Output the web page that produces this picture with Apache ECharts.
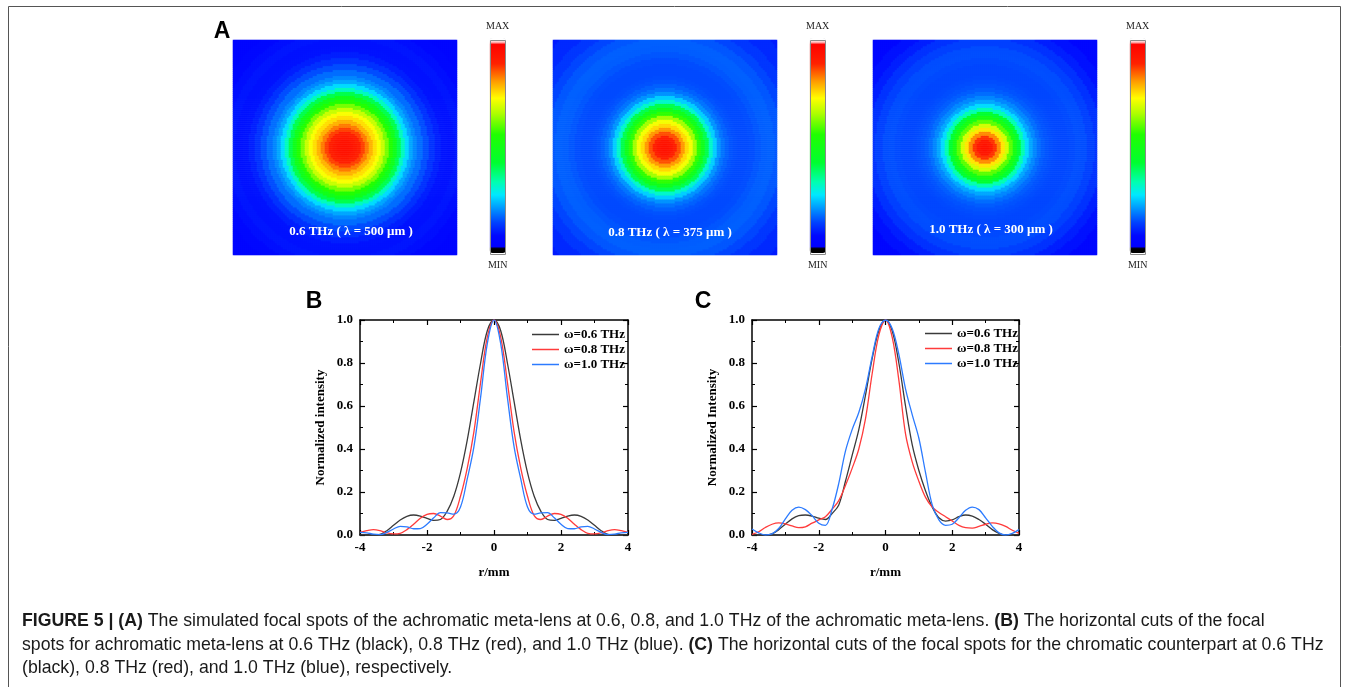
<!DOCTYPE html>
<html lang="en">
<head>
<meta charset="UTF-8">
<title>FIGURE 5 focal spots</title>
<script src="https://cdn.jsdelivr.net/npm/echarts@6/dist/echarts.min.js"></script>
<style>
    html, body { margin: 0; padding: 0; background: #fff; }
    #main { width: 1354px; height: 687px; }
</style>
</head>
<body>
<div id="main"></div>
<script type="text/javascript">
    // ---- data ----
    var seriesNames = ['ω=0.6 THz', 'ω=0.8 THz', 'ω=1.0 THz'];
    var spotLabels = ['0.6 THz ( λ = 500 μm )', '0.8 THz ( λ = 375 μm )', '1.0 THz ( λ = 300 μm )'];

    // r/mm sample positions of the horizontal cuts
    var rPos = [-4.0, -3.8, -3.6, -3.4, -3.2, -3.0, -2.8, -2.6, -2.4, -2.2, -2.0, -1.8, -1.6, -1.4, -1.2, -1.0, -0.8, -0.6, -0.4, -0.2,
        0.0, 0.2, 0.4, 0.6, 0.8, 1.0, 1.2, 1.4, 1.6, 1.8, 2.0, 2.2, 2.4, 2.6, 2.8, 3.0, 3.2, 3.4, 3.6, 3.8, 4.0];

    // (B) achromatic meta-lens
    var b06 = [0.0, 0.0, 0.0, 0.003, 0.02, 0.045, 0.07, 0.087, 0.093, 0.088, 0.077, 0.068, 0.072, 0.11, 0.18, 0.29, 0.44, 0.62, 0.80, 0.95,
        1.0, 0.95, 0.80, 0.62, 0.44, 0.29, 0.18, 0.11, 0.072, 0.068, 0.077, 0.088, 0.093, 0.087, 0.07, 0.045, 0.02, 0.003, 0.0, 0.0, 0.0];
    var b08 = [0.012, 0.02, 0.025, 0.02, 0.01, 0.005, 0.008, 0.025, 0.05, 0.078, 0.096, 0.10, 0.088, 0.072, 0.09, 0.18, 0.31, 0.48, 0.71, 0.92,
        1.0, 0.92, 0.71, 0.48, 0.31, 0.18, 0.09, 0.072, 0.088, 0.10, 0.096, 0.078, 0.05, 0.025, 0.008, 0.005, 0.01, 0.02, 0.025, 0.02, 0.012];
    var b10 = [0.012, 0.01, 0.004, 0.002, 0.012, 0.028, 0.04, 0.038, 0.029, 0.03, 0.05, 0.08, 0.104, 0.103, 0.097, 0.13, 0.26, 0.41, 0.64, 0.89,
        1.0, 0.89, 0.64, 0.41, 0.26, 0.13, 0.097, 0.103, 0.104, 0.08, 0.05, 0.03, 0.029, 0.038, 0.04, 0.028, 0.012, 0.002, 0.004, 0.01, 0.012];

    // (C) chromatic counterpart
    var c06 = [0.0, 0.0, 0.0, 0.005, 0.025, 0.05, 0.075, 0.09, 0.093, 0.088, 0.078, 0.072, 0.10, 0.14, 0.25, 0.37, 0.49, 0.65, 0.82, 0.95,
        1.0, 0.95, 0.80, 0.60, 0.42, 0.30, 0.205, 0.13, 0.08, 0.065, 0.07, 0.085, 0.093, 0.088, 0.072, 0.05, 0.025, 0.008, 0.0, 0.0, 0.0];
    var c08 = [0.003, 0.015, 0.035, 0.05, 0.056, 0.052, 0.042, 0.034, 0.038, 0.055, 0.07, 0.085, 0.12, 0.16, 0.23, 0.31, 0.40, 0.54, 0.75, 0.93,
        1.0, 0.92, 0.72, 0.47, 0.34, 0.25, 0.175, 0.13, 0.105, 0.085, 0.065, 0.045, 0.034, 0.032, 0.04, 0.05, 0.056, 0.052, 0.04, 0.022, 0.008];
    var c10 = [0.028, 0.01, 0.0, 0.005, 0.03, 0.075, 0.115, 0.13, 0.118, 0.09, 0.055, 0.045, 0.12, 0.24, 0.39, 0.49, 0.57, 0.68, 0.83, 0.96,
        1.0, 0.96, 0.84, 0.68, 0.56, 0.45, 0.29, 0.14, 0.07, 0.045, 0.05, 0.08, 0.115, 0.13, 0.118, 0.08, 0.04, 0.01, 0.0, 0.008, 0.025];

    // (A) focal spots: intensity bands, ring radius (px from spot centre) -> normalized level
    var ringRadius = [0, 4, 8, 12, 16, 20, 24, 28, 32, 36, 40, 44, 48, 52, 56, 60, 64, 68, 72, 78, 84, 90, 96, 102, 110, 118, 126, 136, 150];
    var spot06 = [0.93, 0.925, 0.91, 0.89, 0.86, 0.82, 0.78, 0.745, 0.715, 0.67, 0.61, 0.55, 0.48, 0.40, 0.32, 0.26, 0.22, 0.195, 0.175,
        0.15, 0.125, 0.105, 0.092, 0.09, 0.095, 0.088, 0.078, 0.068, 0.06];
    var spot08 = [0.93, 0.92, 0.89, 0.85, 0.80, 0.75, 0.71, 0.64, 0.56, 0.48, 0.40, 0.31, 0.25, 0.205, 0.18, 0.165, 0.155, 0.15, 0.148,
        0.148, 0.15, 0.157, 0.163, 0.165, 0.158, 0.145, 0.13, 0.115, 0.10];
    var spot10 = [0.93, 0.91, 0.87, 0.81, 0.74, 0.68, 0.59, 0.50, 0.42, 0.33, 0.26, 0.22, 0.195, 0.175, 0.162, 0.155, 0.15, 0.147, 0.146,
        0.146, 0.148, 0.152, 0.15, 0.14, 0.125, 0.105, 0.09, 0.075, 0.065];

    // jet-like colour bar stops
    var jetStops = [[0, '#000000'], [0.02, '#000000'], [0.03, '#0000ff'], [0.08, '#0008ff'], [0.14, '#0040ff'], [0.19, '#0080ff'],
        [0.27, '#00e8ff'], [0.33, '#00ffb0'], [0.42, '#00ff30'], [0.55, '#20ff00'], [0.65, '#b0ff00'], [0.72, '#ffff00'],
        [0.80, '#ff9900'], [0.88, '#ff2200'], [0.975, '#ff0000'], [0.982, '#ffffff'], [1, '#ffffff']];

    // ---- helpers ----
    var SERIF = "'Liberation Serif', 'DejaVu Serif', serif";
    var SANS = "'Liberation Sans', Arial, sans-serif";

    function hex2rgb(h) {
        return [parseInt(h.substr(1, 2), 16), parseInt(h.substr(3, 2), 16), parseInt(h.substr(5, 2), 16)];
    }
    function jetColors(n) {
        var out = [];
        for (var i = 0; i < n; i++) {
            var t = i / (n - 1), k = 0;
            while (k < jetStops.length - 2 && jetStops[k + 1][0] < t) k++;
            var a = jetStops[k], b = jetStops[k + 1];
            var f = (t - a[0]) / (b[0] - a[0]);
            f = Math.max(0, Math.min(1, f));
            var ca = hex2rgb(a[1]), cb = hex2rgb(b[1]);
            out.push('rgb(' + Math.round(ca[0] + (cb[0] - ca[0]) * f) + ',' + Math.round(ca[1] + (cb[1] - ca[1]) * f) + ',' + Math.round(ca[2] + (cb[2] - ca[2]) * f) + ')');
        }
        return out;
    }
    var jet = jetColors(201);

    var cellsX = 112, cellsY = 108, cellPx = 2;
    var cellIdxX = [], cellIdxY = [];
    for (var i = 0; i < cellsX; i++) cellIdxX.push(i);
    for (var j = 0; j < cellsY; j++) cellIdxY.push(j);

    // cell table for the heatmap: each cell takes the level of the band it falls in
    function spotCells(levels) {
        var out = [];
        for (var i = 0; i < cellsX; i++) {
            for (var j = 0; j < cellsY; j++) {
                var d = Math.sqrt(Math.pow(i + 0.5 - cellsX / 2, 2) + Math.pow(j + 0.5 - cellsY / 2, 2)) * cellPx;
                var k = 0;
                while (k + 1 < ringRadius.length && ringRadius[k + 1] <= d) k++;
                out.push([i, j, levels[k]]);
            }
        }
        return out;
    }
    function pairs(ys) {
        return rPos.map(function (r, i) { return [r, ys[i]]; });
    }

    var spotGrids = [233, 553, 873];
    var barLeft = [490, 810, 1130];
    var spots = [spot06, spot08, spot10];

    var grids = [], xAxes = [], yAxes = [], series = [], visualMaps = [], graphics = [];

    spotGrids.forEach(function (left, k) {
        grids.push({left: left, top: 40, width: 224, height: 215});
        xAxes.push({type: 'category', gridIndex: k, data: cellIdxX, show: false});
        yAxes.push({type: 'category', gridIndex: k, data: cellIdxY, show: false});
        series.push({
            type: 'heatmap', xAxisIndex: k, yAxisIndex: k, data: spotCells(spots[k]),
            progressive: 0, silent: true, emphasis: {disabled: true}
        });
        visualMaps.push({
            type: 'continuous', seriesIndex: k, min: 0, max: 1, calculable: false, hoverLink: false,
            orient: 'vertical', left: barLeft[k] - 4, top: 21, itemWidth: 16, itemHeight: 215,
            text: ['MAX', 'MIN'], textGap: 7, padding: 0,
            textStyle: {fontFamily: SERIF, fontSize: 10, color: '#222'},
            inRange: {color: jet}
        });
        graphics.push({
            type: 'rect', z: 100, shape: {x: barLeft[k] + 0.5, y: 40.5, width: 15, height: 214},
            style: {fill: 'none', stroke: '#8a8a8a', lineWidth: 1}
        });
    });

    var labelCenters = [[351, 232], [670, 233], [991, 230]];
    spotLabels.forEach(function (t, k) {
        graphics.push({
            type: 'text', z: 100, x: labelCenters[k][0], y: labelCenters[k][1],
            style: {text: t, fill: '#fff', fontFamily: SERIF, fontWeight: 'bold', fontSize: 13, align: 'center', verticalAlign: 'middle'}
        });
    });

    var axisText = {color: '#000', fontFamily: SERIF, fontWeight: 'bold', fontSize: 13};
    var lineColors = ['#3a3a3a', '#ff3b3b', '#2c7bff'];

    function frame(gridIndex, yName) {
        var base = {
            axisLine: {show: true, onZero: false, lineStyle: {color: '#000', width: 1.5}},
            axisTick: {show: true, inside: true, length: 5, lineStyle: {color: '#000', width: 1.2}},
            minorTick: {show: true, splitNumber: 2, length: 3, lineStyle: {color: '#000', width: 1}},
            splitLine: {show: false}
        };
        xAxes.push(Object.assign({
            type: 'value', gridIndex: gridIndex, position: 'bottom', min: -4, max: 4, interval: 2,
            axisLabel: Object.assign({margin: 6}, axisText),
            name: 'r/mm', nameLocation: 'middle', nameGap: 31, nameTextStyle: axisText
        }, base));
        xAxes.push(Object.assign({
            type: 'value', gridIndex: gridIndex, position: 'top', min: -4, max: 4, interval: 2,
            axisLabel: {show: false}
        }, base));
        yAxes.push(Object.assign({
            type: 'value', gridIndex: gridIndex, position: 'left', min: 0, max: 1, interval: 0.2,
            axisLabel: Object.assign({margin: 7, formatter: function (v) { return v.toFixed(1); }}, axisText),
            name: yName, nameLocation: 'middle', nameRotate: 90, nameGap: 33, nameTextStyle: axisText
        }, base));
        yAxes.push(Object.assign({
            type: 'value', gridIndex: gridIndex, position: 'right', min: 0, max: 1, interval: 0.2,
            axisLabel: {show: false}
        }, base));
    }

    grids.push({left: 360, top: 320, width: 268, height: 215});
    frame(3, 'Normalized intensity');
    grids.push({left: 752, top: 320, width: 267, height: 215});
    frame(4, 'Normalized Intensity');

    [[b06, b08, b10], [c06, c08, c10]].forEach(function (set, g) {
        set.forEach(function (ys, k) {
            series.push({
                type: 'line', name: seriesNames[k], xAxisIndex: 3 + g * 2, yAxisIndex: 3 + g * 2,
                data: pairs(ys), symbol: 'none', smooth: 0.35, silent: true,
                lineStyle: {color: lineColors[k], width: 1.3}, itemStyle: {color: lineColors[k]}
            });
        });
    });

    var legendBase = {
        orient: 'vertical', data: seriesNames, selectedMode: false, icon: 'rect', itemWidth: 27, itemHeight: 1.5, itemGap: 2,
        padding: 0, textStyle: {color: '#000', fontFamily: SERIF, fontWeight: 'bold', fontSize: 13}
    };
    var legends = [
        Object.assign({left: 532, top: 328}, legendBase),
        Object.assign({left: 925, top: 327}, legendBase)
    ];

    // panel letters
    [['A', 222, 32], ['B', 314, 302], ['C', 703, 302]].forEach(function (p) {
        graphics.push({
            type: 'text', x: p[1], y: p[2],
            style: {text: p[0], fill: '#000', fontFamily: SANS, fontWeight: 'bold', fontSize: 23, align: 'center', verticalAlign: 'middle'}
        });
    });

    // figure box
    graphics.push({
        type: 'polyline', shape: {points: [[8.5, 687], [8.5, 6.5], [1340.5, 6.5], [1340.5, 687]]},
        style: {fill: 'none', stroke: '#555', lineWidth: 1}
    });

    // caption
    var capRich = {
        b: {fontFamily: SANS, fontSize: 17.7, fontWeight: 'bold', fill: '#1a1a1a'},
        n: {fontFamily: SANS, fontSize: 17.7, fill: '#1a1a1a'}
    };
    var captionLines = [
        '{b|FIGURE 5 | (A)}{n| The simulated focal spots of the achromatic meta-lens at 0.6, 0.8, and 1.0 THz of the achromatic meta-lens. }{b|(B)}{n| The horizontal cuts of the focal}',
        '{n|spots for achromatic meta-lens at 0.6 THz (black), 0.8 THz (red), and 1.0 THz (blue). }{b|(C)}{n| The horizontal cuts of the focal spots for the chromatic counterpart at 0.6 THz}',
        '{n|(black), 0.8 THz (red), and 1.0 THz (blue), respectively.}'
    ];
    [621, 645, 668].forEach(function (y, k) {
        graphics.push({
            type: 'text', x: 22, y: y,
            style: {text: captionLines[k], rich: capRich, align: 'left', verticalAlign: 'middle'}
        });
    });

    var myChart = echarts.init(document.getElementById('main'));
    var option = {
        animation: false,
        backgroundColor: '#fff',
        grid: grids,
        xAxis: xAxes,
        yAxis: yAxes,
        visualMap: visualMaps,
        legend: legends,
        series: series,
        graphic: {elements: graphics}
    };
    myChart.setOption(option);
</script>
</body>
</html>
